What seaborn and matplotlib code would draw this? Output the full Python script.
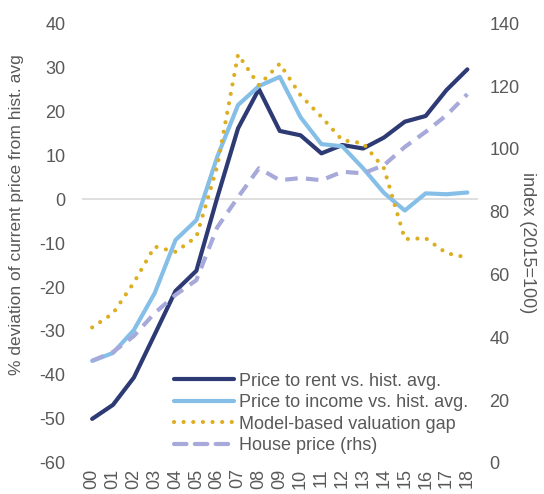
import pandas as pd
import matplotlib
matplotlib.use('Agg')
import matplotlib.pyplot as plt
import seaborn as sns

# Dữ liệu
years = ['00', '01', '02', '03', '04', '05', '06', '07', '08', '09',
         '10', '11', '12', '13', '14', '15', '16', '17', '18']
price_to_rent = [-50, -46.8, -40.6, -30.8, -20.9, -16.3, 0.3, 16.1, 25, 15.5,
                 14.5, 10.4, 12.3, 11.5, 14, 17.6, 18.9, 24.8, 29.5]
price_to_income = [-36.8, -35, -29.8, -21.4, -9.3, -4.8, 9.6, 21.4, 25.7, 27.8,
                   18.6, 12.5, 12, 7, 1.4, -2.6, 1.3, 1.1, 1.5]
valuation_gap = [-29.2, -26, -19, -10.8, -12, -8.6, 7.4, 32.9, 25.9, 30.8,
                 23.6, 18.7, 13.4, 12.7, 7, -9.1, -8.9, -12.3, -13.3]
house_price = [32.5, 35.3, 40.4, 47.7, 53.5, 58.2, 75, 84.6, 93.8, 90,
               90.7, 90, 92.7, 92.2, 94.8, 100.6, 105.4, 110.7, 117.4]

sns.set_style('white')
plt.rcParams['font.family'] = ['Liberation Sans', 'DejaVu Sans']
plt.rcParams['axes.unicode_minus'] = False
gray = '#595959'

data = pd.DataFrame({
    'x': range(len(years)),
    'rent': price_to_rent,
    'income': price_to_income,
    'gap': valuation_gap,
    'house': house_price,
})

fig = plt.figure(figsize=(5.44, 4.94), dpi=100)
ax = fig.add_axes([0.151, 0.063, 0.728, 0.890])
ax2 = ax.twinx()

c_rent = '#2E3A74'
c_income = '#85BFE8'
c_gap = '#DDAE22'
c_house = '#A6A9DA'

ax.axhline(0, color='#D9D9D9', lw=1.2, zorder=0)
sns.lineplot(data=data, x='x', y='rent', ax=ax, color=c_rent, lw=3,
             label='Price to rent vs. hist. avg.', legend=False)
sns.lineplot(data=data, x='x', y='income', ax=ax, color=c_income, lw=3,
             label='Price to income vs. hist. avg.', legend=False)
sns.lineplot(data=data, x='x', y='gap', ax=ax, color=c_gap, lw=3,
             linestyle=(0, (0.01, 2.3)),
             label='Model-based valuation gap', legend=False)
sns.lineplot(data=data, x='x', y='house', ax=ax2, color=c_house, lw=3,
             linestyle=(0, (3, 2)), label='House price (rhs)', legend=False)
ax.lines[-1].set_dash_capstyle('round')

ax.set_xlim(-0.48, 18.52)
ax.set_ylim(-60, 40)
ax2.set_ylim(0, 140)
ax.set_yticks(range(-60, 41, 10))
ax2.set_yticks(range(0, 141, 20))
ax.set_xticks(range(len(years)))
ax.set_xticklabels(years, rotation=90)

for a in (ax, ax2):
    for s in a.spines.values():
        s.set_visible(False)
    a.tick_params(length=0, labelsize=13, colors=gray)
ax.tick_params(axis='x', pad=4)
ax.tick_params(axis='y', pad=12)
ax2.tick_params(axis='y', pad=8)

ax.set_xlabel('')
ax.set_ylabel('% deviation of current price from hist. avg', fontsize=12.5,
              color=gray)
ax.yaxis.set_label_coords(-0.148, 0.564)
ax2.set_ylabel('index (2015=100)', fontsize=13, color=gray, rotation=270,
               labelpad=12)

# Gộp chú giải của hai trục
h1, l1 = ax.get_legend_handles_labels()
h2, l2 = ax2.get_legend_handles_labels()
leg = ax2.legend(h1 + h2, l1 + l2, loc='lower right', bbox_to_anchor=(0.975, 0.02),
                 frameon=False, fontsize=13, labelcolor=gray, handlelength=3.3,
                 handletextpad=0.3, labelspacing=0.25, borderaxespad=0,
                 borderpad=0)
for ln in leg.get_lines():
    ln.set_dash_capstyle('round')

plt.savefig('out.png', dpi=100)
